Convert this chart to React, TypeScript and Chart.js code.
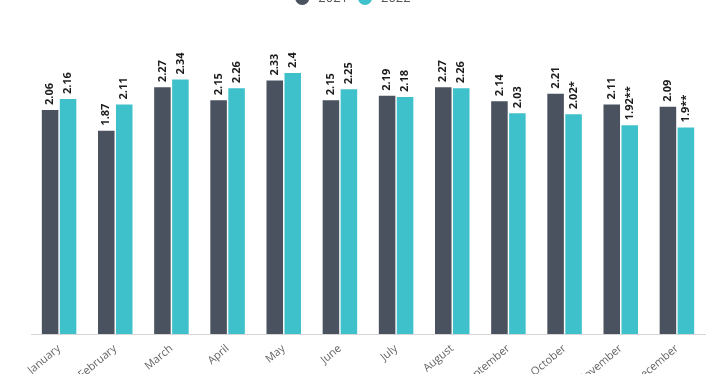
import React, { useEffect, useRef } from "react";
import { Chart, registerables } from "chart.js";

Chart.register(...registerables);

const months = ["January", "February", "March", "April", "May", "June", "July", "August", "September", "October", "November", "December"];
const values2021 = [2.06, 1.87, 2.27, 2.15, 2.33, 2.15, 2.19, 2.27, 2.14, 2.21, 2.11, 2.09];
const values2022 = [2.16, 2.11, 2.34, 2.26, 2.4, 2.25, 2.18, 2.26, 2.03, 2.02, 1.92, 1.9];
const labels2021 = ["2.06", "1.87", "2.27", "2.15", "2.33", "2.15", "2.19", "2.27", "2.14", "2.21", "2.11", "2.09"];
const labels2022 = ["2.16", "2.11", "2.34", "2.26", "2.4", "2.25", "2.18", "2.26", "2.03", "2.02*", "1.92**", "1.9**"];
const seriesNames = ["2021", "2022"];
const colors = ["#49525e", "#3fc1cb"];

const valueLabelPlugin = {
  id: "valueLabels",
  afterDatasetsDraw(chart: any) {
    const ctx = chart.ctx;
    const all = [labels2021, labels2022];
    chart.data.datasets.forEach((ds: any, di: number) => {
      const meta = chart.getDatasetMeta(di);
      meta.data.forEach((el: any, i: number) => {
        ctx.save();
        ctx.translate(el.x, el.y - 5);
        ctx.rotate(-Math.PI / 2);
        ctx.font = "bold 11px 'Open Sans'";
        ctx.fillStyle = "#1c1c1c";
        ctx.textAlign = "left";
        ctx.textBaseline = "middle";
        ctx.fillText(all[di][i], 0, 0);
        ctx.restore();
      });
    });
  },
};

const legendPlugin = {
  id: "customLegend",
  afterDraw(chart: any) {
    const ctx = chart.ctx;
    ctx.save();
    ctx.font = "13px 'Open Sans'";
    const r = 7;
    const items = chart.data.datasets.map((ds: any) => ({ label: ds.label, color: ds.backgroundColor, w: ctx.measureText(ds.label).width }));
    const total = items.reduce((s: number, it: any) => s + 2 * r + 9 + it.w, 0) + 10 * (items.length - 1);
    let x = chart.width / 2 - 11 - total / 2;
    const y = 10;
    items.forEach((it: any) => {
      ctx.beginPath();
      ctx.arc(x + r, y, r, 0, Math.PI * 2);
      ctx.fillStyle = it.color;
      ctx.fill();
      ctx.fillStyle = "#555";
      ctx.textAlign = "left";
      ctx.textBaseline = "middle";
      ctx.fillText(it.label, x + 2 * r + 9, y);
      x += 2 * r + 9 + it.w + 10;
    });
    ctx.restore();
  },
};

export default function App() {
  const ref = useRef<HTMLCanvasElement>(null);
  useEffect(() => {
    if (!ref.current) return;
    const chart = new Chart(ref.current, {
      type: "bar",
      data: {
        labels: months,
        datasets: [
          { label: seriesNames[0], data: values2021, backgroundColor: colors[0], categoryPercentage: 0.64, barPercentage: 0.92 },
          { label: seriesNames[1], data: values2022, backgroundColor: colors[1], categoryPercentage: 0.64, barPercentage: 0.92 },
        ],
      },
      options: {
        animation: false,
        responsive: false,
        maintainAspectRatio: false,
        layout: { padding: { top: 63.25, left: 31, right: 23, bottom: 0 } },
        plugins: { legend: { display: false }, tooltip: { enabled: false } },
        scales: {
          x: {
            grid: { display: false },
            border: { display: true, color: "#d6d6d6" },
            ticks: { color: "#666", padding: 0, font: { size: 11, family: "'Open Sans'" }, minRotation: 40, maxRotation: 40, autoSkip: false },
            afterFit: (scale: any) => { scale.height = 54; },
          },
          y: { display: false, min: 0, max: 2.6 },
        },
      },
      plugins: [valueLabelPlugin, legendPlugin],
    });
    return () => chart.destroy();
  }, []);
  return (
    <div style={{ position: "fixed", left: 0, top: 0, width: 728, height: 374, overflow: "hidden", background: "#fff" }}>
      <div style={{ position: "absolute", left: 0, top: -12, width: 728, height: 400 }}>
        <canvas ref={ref} width={728} height={400} style={{ width: 728, height: 400 }} />
      </div>
    </div>
  );
}
